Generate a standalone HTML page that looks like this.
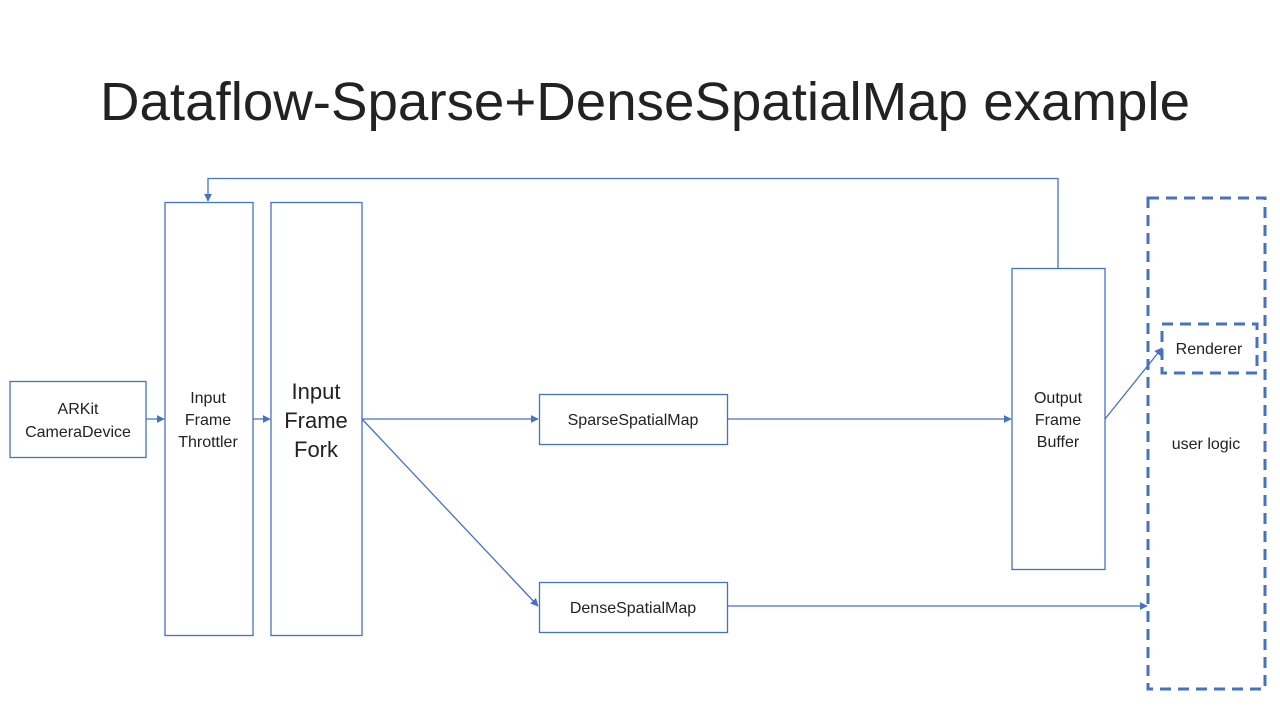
<!DOCTYPE html>
<html><head><meta charset="utf-8"><style>
html,body{margin:0;padding:0;background:#fff;}
svg{display:block;}
text{font-family:"Liberation Sans",sans-serif;fill:#222;}
</style></head><body>
<svg width="1280" height="720" viewBox="0 0 1280 720" xmlns="http://www.w3.org/2000/svg">
<defs>
<marker id="a" viewBox="0 0 10 10" refX="9" refY="5" markerWidth="8" markerHeight="8" markerUnits="userSpaceOnUse" orient="auto"><path d="M0,0L10,5L0,10z" fill="#4472C4"/></marker>
</defs>
<text x="100" y="120" font-size="54" textLength="1090" lengthAdjust="spacingAndGlyphs" font-weight="300">Dataflow-Sparse+DenseSpatialMap example</text>
<g fill="none" stroke="#4472C4" stroke-width="1.3">
<rect x="10" y="381.5" width="136" height="76"/>
<rect x="165" y="202.5" width="88" height="433"/>
<rect x="271" y="202.5" width="91" height="433"/>
<rect x="539.5" y="394.5" width="188" height="50"/>
<rect x="539.5" y="582.5" width="188" height="50"/>
<rect x="1012" y="268.5" width="93" height="301"/>
<path d="M1058,268 V178.5 H208 V201" marker-end="url(#a)"/>
<path d="M146,419 H164" marker-end="url(#a)"/>
<path d="M253,419 H270" marker-end="url(#a)"/>
<path d="M362,419 H538" marker-end="url(#a)"/>
<path d="M362,419 L538,606" marker-end="url(#a)"/>
<path d="M727,419 H1011" marker-end="url(#a)"/>
<path d="M727,606 H1147" marker-end="url(#a)"/>
<path d="M1105,419 L1162,348" marker-end="url(#a)"/>
</g>
<g fill="none" stroke="#4472C4" stroke-width="3" stroke-dasharray="11,7">
<rect x="1148" y="198" width="117" height="491"/>
<rect x="1162" y="324" width="95" height="49"/>
</g>
<g font-size="16" text-anchor="middle">
<text x="78" y="414">ARKit</text>
<text x="78" y="437">CameraDevice</text>
<text x="208" y="403">Input</text>
<text x="208" y="425">Frame</text>
<text x="208" y="447">Throttler</text>
<text x="633" y="425">SparseSpatialMap</text>
<text x="633" y="613">DenseSpatialMap</text>
<text x="1058" y="403">Output</text>
<text x="1058" y="425">Frame</text>
<text x="1058" y="447">Buffer</text>
<text x="1209" y="354">Renderer</text>
<text x="1206" y="449">user logic</text>
</g>
<g font-size="22" text-anchor="middle">
<text x="316" y="399">Input</text>
<text x="316" y="428">Frame</text>
<text x="316" y="457">Fork</text>
</g>
</svg>
</body></html>
